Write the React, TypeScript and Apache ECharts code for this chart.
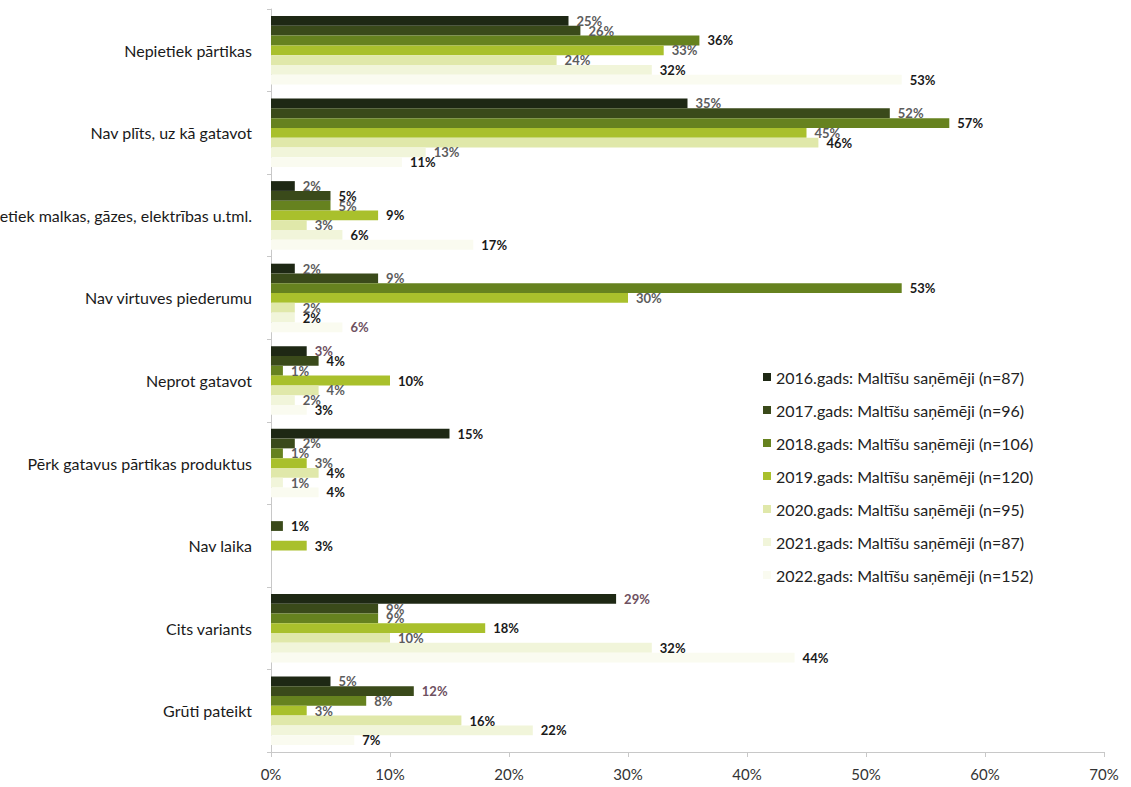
import React, { useEffect, useRef } from "react";
import * as echarts from "echarts";

const categories = [
  "Nepietiek pārtikas",
  "Nav plīts, uz kā gatavot",
  "Nepietiek malkas, gāzes, elektrības u.tml.",
  "Nav virtuves piederumu",
  "Neprot gatavot",
  "Pērk gatavus pārtikas produktus",
  "Nav laika",
  "Cits variants",
  "Grūti pateikt",
];

const seriesNames = [
  "2016.gads: Maltīšu saņēmēji (n=87)",
  "2017.gads: Maltīšu saņēmēji (n=96)",
  "2018.gads: Maltīšu saņēmēji (n=106)",
  "2019.gads: Maltīšu saņēmēji (n=120)",
  "2020.gads: Maltīšu saņēmēji (n=95)",
  "2021.gads: Maltīšu saņēmēji (n=87)",
  "2022.gads: Maltīšu saņēmēji (n=152)",
];

const v2016 = [25, 35, 2, 2, 3, 15, null, 29, 5];
const v2017 = [26, 52, 5, 9, 4, 2, 1, 9, 12];
const v2018 = [36, 57, 5, 53, 1, 1, null, 9, 8];
const v2019 = [33, 45, 9, 30, 10, 3, 3, 18, 3];
const v2020 = [24, 46, 3, 2, 4, 4, null, 10, 16];
const v2021 = [32, 13, 6, 2, 2, 1, null, 32, 22];
const v2022 = [53, 11, 17, 6, 3, 4, null, 44, 7];

const xTicks = [0, 10, 20, 30, 40, 50, 60, 70];

const allValues = [v2016, v2017, v2018, v2019, v2020, v2021, v2022];

const colors = ["#1e2814", "#3a4a1a", "#66821f", "#a9c02c", "#e0e8aa", "#f1f5da", "#fafbf0"];

// labels drawn in a muted mauve in the reference: [seriesIndex, categoryIndex]
const mauveLabels = [
  [0, 4],
  [0, 7],
  [1, 8],
  [6, 3],
];

const FONT = "Lato, 'Open Sans', sans-serif";

function labelColor(si: number, ci: number): string {
  if (mauveLabels.some(([s, c]) => s === si && c === ci)) return "#6e5060";
  const v = allValues[si][ci] as number;
  const neighbours = [si - 1, si + 1].filter((k) => k >= 0 && k <= 4);
  const covered = neighbours.some((k) => {
    const nv = allValues[k][ci];
    return nv != null && (nv as number) >= v + 1;
  });
  return covered ? "#5c5c5c" : "#1a1a1a";
}

export default function App() {
  const ref = useRef<HTMLDivElement>(null);

  useEffect(() => {
    if (!ref.current) return;
    const chart = echarts.init(ref.current, null, { renderer: "svg" });

    const series = seriesNames.map((name, si) => ({
      name,
      type: "bar",
      barGap: "0%",
      barCategoryGap: "17%",
      itemStyle: { color: colors[si] },
      data: allValues[si].map((v, ci) =>
        v == null
          ? null
          : {
              value: v,
              label: { color: labelColor(si, ci) },
            }
      ),
      label: {
        show: true,
        position: "right",
        distance: 8,
        formatter: (p: any) => `${p.value}%`,
        fontFamily: FONT,
        fontWeight: "bold",
        fontSize: 13,
      },
    }));

    chart.setOption({
      animation: false,
      backgroundColor: "#ffffff",
      textStyle: { fontFamily: FONT },
      grid: {
        left: 271,
        right: 27,
        top: 9,
        bottom: 35,
        containLabel: false,
        outerBoundsMode: "none",
      },
      legend: {
        orient: "vertical",
        left: 758,
        top: 364,
        itemWidth: 8,
        itemHeight: 8,
        itemGap: 17,
        icon: "rect",
        data: seriesNames,
        textStyle: { fontFamily: FONT, fontSize: 16, color: "#222" },
      },
      xAxis: {
        type: "value",
        min: xTicks[0],
        max: xTicks[xTicks.length - 1],
        interval: 10,
        axisLine: { show: true, lineStyle: { color: "#c8c8c8" } },
        axisTick: { show: true, length: 5, lineStyle: { color: "#c8c8c8" } },
        splitLine: { show: false },
        axisLabel: {
          formatter: "{value}%",
          fontFamily: FONT,
          fontSize: 15,
          color: "#333",
          margin: 14,
        },
      },
      yAxis: {
        type: "category",
        inverse: true,
        data: categories,
        axisLine: { show: true, lineStyle: { color: "#c8c8c8" } },
        axisTick: { show: true, length: 4, lineStyle: { color: "#c8c8c8" } },
        axisLabel: {
          fontFamily: FONT,
          fontSize: 16,
          color: "#1a1a1a",
          margin: 19,
        },
      },
      series,
    });

    return () => chart.dispose();
  }, []);

  return (
    <div
      ref={ref}
      style={{ position: "absolute", left: 0, top: 0, width: 1131, height: 787 }}
    />
  );
}
